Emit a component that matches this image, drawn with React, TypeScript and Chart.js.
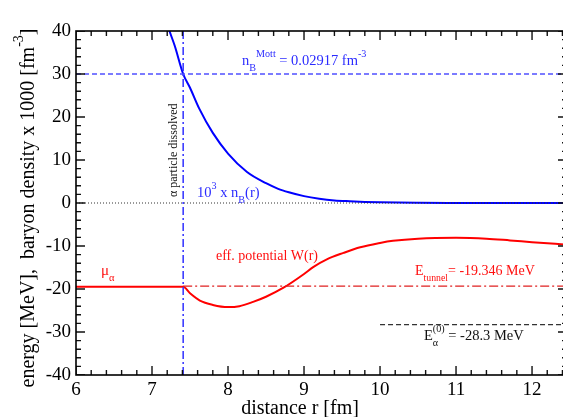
import React, { useEffect, useRef } from "react";
import { Chart, registerables } from "chart.js";

Chart.register(...registerables);

// ---- data ----
const rDensity = [7.15, 7.23, 7.3, 7.41, 7.5, 7.62, 7.8, 8.0, 8.25, 8.5, 8.66, 8.8, 9.0, 9.2, 9.4, 9.6, 9.8, 10.0, 10.5, 11.0, 11.5, 12.0, 12.46];
const nBx1000 = [44.5, 40, 36.5, 30, 26.8, 22, 16.3, 11.5, 7.2, 4.6, 3.3, 2.5, 1.6, 1.0, 0.6, 0.4, 0.25, 0.15, 0.05, 0.02, 0.01, 0, 0];

const rPotential = [6, 7.41, 7.5, 7.63, 7.8, 8.0, 8.15, 8.33, 8.5, 8.73, 9.0, 9.12, 9.3, 9.52, 9.74, 10.0, 10.17, 10.5, 11.0, 11.4, 11.71, 12.0, 12.46];
const potentialW = [-19.5, -19.5, -21.0, -22.7, -23.7, -24.2, -24.0, -23.0, -21.8, -19.7, -16.5, -14.9, -13.1, -11.6, -10.3, -9.3, -8.8, -8.3, -8.1, -8.3, -8.7, -9.1, -9.7];

const rDissolved = 7.41;
const nBMottLevel = 30;
const eTunnel = -19.346;
const eAlpha0 = -28.3;
const eAlphaStart = 10;

const xMin = 6;
const xMax = 12.46;
const yMin = -40;
const yMax = 40;
const xTickValues = [6, 7, 8, 9, 10, 11, 12];
const yTickValues = [-40, -30, -20, -10, 0, 10, 20, 30, 40];
const xMinorTickValues = [6.2, 6.4, 6.6, 6.8, 7.2, 7.4, 7.6, 7.8, 8.2, 8.4, 8.6, 8.8, 9.2, 9.4, 9.6, 9.8, 10.2, 10.4, 10.6, 10.8, 11.2, 11.4, 11.6, 11.8, 12.2, 12.4];
const yMinorTickValues = [-38, -36, -34, -32, -28, -26, -24, -22, -18, -16, -14, -12, -8, -6, -4, -2, 2, 4, 6, 8, 12, 14, 16, 18, 22, 24, 26, 28, 32, 34, 36, 38];

const FONT = "'Liberation Serif', 'DejaVu Serif', serif";
const SMALL = 0.7;
const MAJOR_PX = 9;
const MINOR_PX = 5;

type Seg = { t: string; pos?: "n" | "sub" | "sup"; stack?: boolean };

function drawRich(ctx: CanvasRenderingContext2D, x: number, y: number, segs: Seg[], size: number, color: string) {
  ctx.save();
  ctx.fillStyle = color;
  ctx.textBaseline = "alphabetic";
  ctx.textAlign = "left";
  let cx = x;
  let pending = 0;
  for (const s of segs) {
    const pos = s.pos || "n";
    const fs = pos === "n" ? size : size * SMALL;
    ctx.font = `${fs}px ${FONT}`;
    const dy = pos === "sub" ? size * 0.4 : pos === "sup" ? -size * 0.55 : 0;
    ctx.fillText(s.t, cx, y + dy);
    const w = ctx.measureText(s.t).width;
    if (s.stack) {
      pending = Math.max(pending, w);
    } else {
      cx += Math.max(w, pending);
      pending = 0;
    }
  }
  ctx.restore();
}

function richWidth(ctx: CanvasRenderingContext2D, segs: Seg[], size: number) {
  let w = 0;
  ctx.save();
  for (const s of segs) {
    const pos = s.pos || "n";
    const fs = pos === "n" ? size : size * SMALL;
    ctx.font = `${fs}px ${FONT}`;
    w += ctx.measureText(s.t).width;
  }
  ctx.restore();
  return w;
}

// tick marks as line segments (lengths in pixels converted to data units of the plot box)
const CANVAS_W = 567;
const CANVAS_H = 417;
const PLOT_LEFT = 76;
const PLOT_TOP = 31;
const PLOT_BOTTOM = 375;
const pxToX = (px: number) => (px * (xMax - xMin)) / (CANVAS_W - PLOT_LEFT);
const pxToY = (px: number) => (px * (yMax - yMin)) / (PLOT_BOTTOM - PLOT_TOP);

function tickSegments() {
  const out: { x: number; y: number | null }[] = [];
  const addX = (vals: number[], len: number) => {
    const d = pxToY(len);
    vals.forEach((v) => {
      out.push({ x: v, y: yMin }, { x: v, y: yMin + d }, { x: v, y: null });
      out.push({ x: v, y: yMax }, { x: v, y: yMax - d }, { x: v, y: null });
    });
  };
  const addY = (vals: number[], len: number) => {
    const d = pxToX(len);
    vals.forEach((v) => {
      out.push({ x: xMin, y: v }, { x: xMin + d, y: v }, { x: xMin, y: null });
      out.push({ x: xMax, y: v }, { x: xMax - d, y: v }, { x: xMax, y: null });
    });
  };
  addX(xTickValues, MAJOR_PX);
  addX(xMinorTickValues, MINOR_PX);
  addY(yTickValues, MAJOR_PX);
  addY(yMinorTickValues, MINOR_PX);
  return out;
}

const framePlugin = {
  id: "frameText",
  afterDraw(chart: any) {
    const ctx: CanvasRenderingContext2D = chart.ctx;
    const a = chart.chartArea;
    ctx.save();
    ctx.setLineDash([]);
    ctx.strokeStyle = "#000";
    ctx.lineWidth = 1.6;
    ctx.strokeRect(a.left, a.top, a.right - a.left, a.bottom - a.top);
    ctx.restore();

    const blue = "#2b2bff";
    const red = "#ff1010";
    drawRich(ctx, 242, 65, [
      { t: "n" }, { t: "B", pos: "sub" }, { t: "Mott", pos: "sup" }, { t: " = 0.02917 fm" }, { t: "-3", pos: "sup" },
    ], 14.5, blue);
    drawRich(ctx, 197, 197, [
      { t: "10" }, { t: "3", pos: "sup" }, { t: " x n" }, { t: "B", pos: "sub" }, { t: "(r)" },
    ], 14.5, blue);
    drawRich(ctx, 101, 275, [{ t: "μ" }, { t: "α", pos: "sub" }], 15, red);
    drawRich(ctx, 216, 260, [{ t: "eff. potential W(r)" }], 14, red);
    drawRich(ctx, 415, 275, [{ t: "E" }, { t: "tunnel", pos: "sub" }, { t: "= -19.346 MeV" }], 14, red);
    drawRich(ctx, 424, 340, [
      { t: "E" }, { t: "(0)", pos: "sup", stack: true }, { t: "α", pos: "sub" }, { t: " = -28.3 MeV" },
    ], 14.5, "#111");

    ctx.save();
    ctx.translate(176.5, 197);
    ctx.rotate(-Math.PI / 2);
    drawRich(ctx, 0, 0, [{ t: "α particle dissolved" }], 12, "#111");
    ctx.restore();

    ctx.save();
    ctx.font = `20px ${FONT}`;
    ctx.fillStyle = "#000";
    ctx.textAlign = "center";
    ctx.textBaseline = "alphabetic";
    ctx.fillText("distance r [fm]", 300, 414);
    ctx.restore();

    const ySegs: Seg[] = [
      { t: "energy [MeV],  baryon density x 1000 [fm" }, { t: "-3", pos: "sup" }, { t: "]" },
    ];
    const w = richWidth(ctx, ySegs, 20);
    ctx.save();
    ctx.translate(34, 208 + w / 2);
    ctx.rotate(-Math.PI / 2);
    drawRich(ctx, 0, 0, ySegs, 20, "#000");
    ctx.restore();
  },
};

export default function App() {
  const ref = useRef<HTMLCanvasElement | null>(null);

  useEffect(() => {
    if (!ref.current) return;
    const pts = (xs: number[], ys: number[]) => xs.map((x, i) => ({ x, y: ys[i] }));
    const line = (extra: any) => ({ showLine: true, pointRadius: 0, ...extra });
    const chart = new Chart(ref.current, {
      type: "scatter",
      data: {
        datasets: [
          line({ label: "ticks", data: tickSegments(), borderColor: "#111", borderWidth: 1.4, spanGaps: false, tension: 0 }),
          line({ label: "zero", data: [{ x: xMin, y: 0 }, { x: xMax, y: 0 }], borderColor: "#333", borderWidth: 1, borderDash: [1, 2] }),
          line({ label: "Mott", data: [{ x: xMin, y: nBMottLevel }, { x: xMax, y: nBMottLevel }], borderColor: "#5050ff", borderWidth: 1.5, borderDash: [5, 3] }),
          line({ label: "Etunnel", data: [{ x: rDissolved, y: eTunnel }, { x: xMax, y: eTunnel }], borderColor: "#e02020", borderWidth: 1.3, borderDash: [9, 3, 2, 3] }),
          line({ label: "Ealpha0", data: [{ x: eAlphaStart, y: eAlpha0 }, { x: xMax, y: eAlpha0 }], borderColor: "#333", borderWidth: 1.3, borderDash: [5, 3] }),
          line({ label: "dissolved", data: [{ x: rDissolved, y: yMin }, { x: rDissolved, y: yMax }], borderColor: "#3030ff", borderWidth: 1.5, borderDash: [8, 3, 2, 3] }),
          line({ label: "W", data: pts(rPotential, potentialW), borderColor: "#ff0000", borderWidth: 2, cubicInterpolationMode: "monotone" }),
          line({ label: "nB", data: pts(rDensity, nBx1000), borderColor: "#0000ff", borderWidth: 2, cubicInterpolationMode: "monotone" }),
        ],
      },
      options: {
        animation: false,
        responsive: false,
        maintainAspectRatio: false,
        layout: { padding: { top: PLOT_TOP, right: 0, left: 0, bottom: 0 } },
        plugins: { legend: { display: false }, tooltip: { enabled: false }, title: { display: false } },
        scales: {
          x: {
            type: "linear",
            min: xMin,
            max: xMax,
            grid: { display: false, drawTicks: false },
            border: { display: false },
            afterBuildTicks: (s: any) => {
              s.ticks = xTickValues.map((v) => ({ value: v }));
            },
            afterFit: (s: any) => {
              s.height = CANVAS_H - PLOT_BOTTOM;
            },
            ticks: { autoSkip: false, maxRotation: 0, padding: 4, color: "#000", font: { family: FONT, size: 19 } },
          },
          y: {
            type: "linear",
            min: yMin,
            max: yMax,
            grid: { display: false, drawTicks: false },
            border: { display: false },
            afterBuildTicks: (s: any) => {
              s.ticks = yTickValues.map((v) => ({ value: v }));
            },
            afterFit: (s: any) => {
              s.width = PLOT_LEFT;
            },
            ticks: { autoSkip: false, padding: 5, color: "#000", font: { family: FONT, size: 19 } },
          },
        },
      },
      plugins: [framePlugin],
    });
    return () => chart.destroy();
  }, []);

  return (
    <div style={{ position: "fixed", left: 0, top: 0, width: 563, height: 417, overflow: "hidden", background: "#fff" }}>
      <canvas ref={ref} width={CANVAS_W} height={CANVAS_H} style={{ display: "block", width: CANVAS_W, height: CANVAS_H }} />
    </div>
  );
}
